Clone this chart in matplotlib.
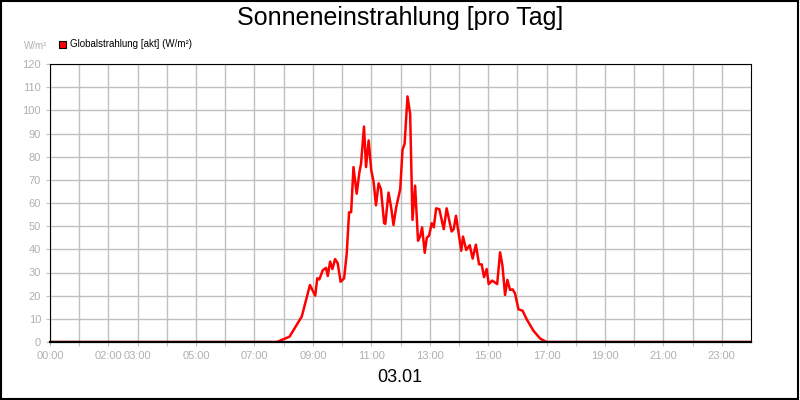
import matplotlib
matplotlib.use("Agg")
import matplotlib.pyplot as plt
import numpy as np

plt.rcParams['font.family'] = ['Liberation Sans', 'DejaVu Sans']

hours = [0, 7.77, 8.2, 8.62, 8.9, 9.08, 9.15, 9.22, 9.34, 9.45, 9.51, 9.59, 9.67, 9.76, 9.85, 9.95, 10.07,
         10.16, 10.24, 10.31, 10.39, 10.5, 10.59, 10.65, 10.75, 10.82, 10.91, 11.0, 11.08, 11.16, 11.25,
         11.33, 11.44, 11.48, 11.59, 11.68, 11.76, 11.85, 11.99, 12.07, 12.14, 12.24, 12.33, 12.41, 12.5,
         12.6, 12.67, 12.74, 12.83, 12.9, 12.98, 13.07, 13.14, 13.22, 13.33, 13.48, 13.58, 13.75, 13.82,
         13.9, 14.08, 14.14, 14.25, 14.37, 14.47, 14.58, 14.69, 14.78, 14.86, 14.95, 15.02, 15.14, 15.31,
         15.41, 15.49, 15.58, 15.66, 15.75, 15.84, 15.92, 16.04, 16.18, 16.33, 16.55, 16.78, 17.0, 24]
values = [0, 0, 2.3, 11, 24.6, 20, 27.5, 27, 31, 32, 28.5, 34.7, 31.5, 35.8, 34, 26, 27.5,
          38.4, 56, 56, 75.5, 64, 73, 77, 93, 75.5, 87, 74, 69, 59, 68.5,
          66, 51.3, 51, 64.5, 58, 50.5, 58, 66, 83, 85.5, 106, 98.5, 52.7, 67.5,
          43.7, 45.5, 49.5, 38.5, 45, 46, 51.3, 49.5, 57.7, 57.3, 48.7, 57.7, 47.7, 48.7,
          54.5, 39.4, 45.5, 39.7, 41.8, 36, 42, 33.5, 33.5, 28, 31.5, 25, 26.5, 25,
          38.7, 33, 20.3, 26.8, 22.5, 22.7, 21, 14.1, 13.5, 9.6, 4.9, 1.5, 0, 0]
label_hours = [0, 2, 3, 5, 7, 9, 11, 13, 15, 17, 19, 21, 23]

fig = plt.figure(figsize=(8, 4), dpi=100)
fig.patch.set_facecolor("white")
fig.add_artist(plt.Rectangle((0.001, 0.002), 0.997, 0.995, transform=fig.transFigure,
                             fill=False, edgecolor="black", lw=1.5))
ax = fig.add_axes([50/800, 58/400, 701/800, 278/400])
ax.plot(hours, values, color="red", lw=1.8)
ax.set_xlim(0, 24)
ax.set_ylim(0, 120)
ax.set_yticks(range(0, 121, 10))
ax.set_xticks(range(0, 24), minor=False)
ax.set_xticklabels([f"{h:02d}:00" if h in label_hours else "" for h in range(24)])
ax.grid(True, color="#c0c0c0", lw=1)
ax.set_axisbelow(True)
ax.tick_params(colors="#c0c0c0", labelcolor="#b0b0b0", labelsize=8, length=3)
for s in ax.spines.values():
    s.set_color("black")
ax.spines['bottom'].set_linewidth(1.6)
fig.text(0.5, 0.955, "Sonneneinstrahlung [pro Tag]", ha="center", va="center", fontsize=18)
fig.text(0.5, 0.055, "03.01", ha="center", va="center", fontsize=13)
fig.text(24/800, 1-46/400, "W/m²", fontsize=7, color="#b0b0b0", va="center")
fig.patches.append(plt.Rectangle((59/800, 1-48/400), 7/800, 7/400, transform=fig.transFigure,
                                 facecolor="red", edgecolor="black", lw=0.8))
fig.text(70/800, 1-44/400, "Globalstrahlung [akt] (W/m²)", fontsize=7, va="center")
fig.savefig("out.png", dpi=100)
